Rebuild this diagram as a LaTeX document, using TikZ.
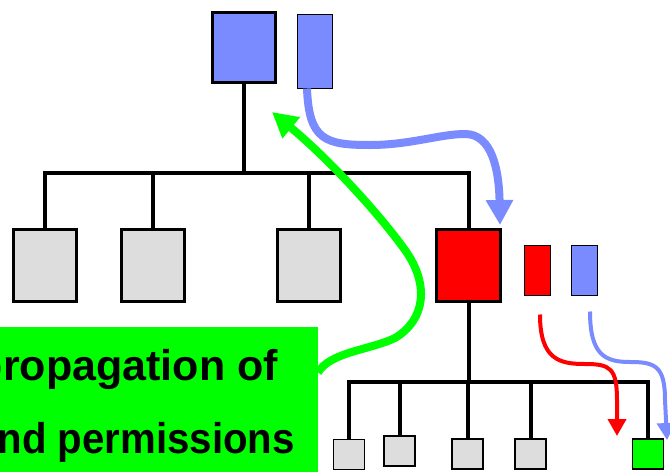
\documentclass[tikz,border=0pt]{standalone}
\usepackage{fontspec}
\usepackage{graphicx}
\setmainfont{Liberation Sans}
\usetikzlibrary{arrows.meta}
\definecolor{pblue}{RGB}{122,139,255}
\definecolor{pgray}{RGB}{221,221,221}
\definecolor{pgreen}{RGB}{0,255,0}
\definecolor{pred}{RGB}{255,0,0}
\begin{document}
\begin{tikzpicture}[x=1pt,y=-1pt,
  bigbox/.style={draw=black,line width=3pt,inner sep=0pt,outer sep=0pt,minimum width=63pt,minimum height=72pt},
  keybox/.style={draw=black,line width=1.2pt,inner sep=0pt,outer sep=0pt},
  leaf/.style={draw=black,line width=1.8pt,fill=pgray,inner sep=0pt,outer sep=0pt,minimum width=31pt,minimum height=30pt},
  tree/.style={draw=black,line width=4pt},
  bigarrow/.style={line width=8pt,-{Triangle[length=25pt,width=26pt]}},
  thinarrow/.style={line width=4pt,-{Triangle[length=17pt,width=18pt]}},
  banner/.style={font=\fontsize{43}{50}\selectfont\bfseries,inner sep=0pt,anchor=base east}]
\useasboundingbox (0,0) rectangle (670,472);
\clip (0,0) rectangle (670,472);
% upper level
\node[bigbox,fill=pblue,minimum height=70pt] (top) at (244,47.5) {};
\node[keybox,fill=pblue,minimum width=35pt,minimum height=74pt] (topk) at (315,51.5) {};
\node[bigbox,fill=pgray] (g1) at (45,265.5) {};
\node[bigbox,fill=pgray] (g2) at (152.5,265.5) {};
\node[bigbox,fill=pgray] (g3) at (309,265.5) {};
\node[bigbox,fill=pred,minimum width=64pt] (red) at (468.5,265.5) {};
\node[keybox,fill=pred,minimum width=26pt,minimum height=50pt] (rk) at (537.5,270.5) {};
\node[keybox,fill=pblue,minimum width=26pt,minimum height=50pt] (bk) at (584.5,270.5) {};
% lower level
\node[leaf] (b1) at (349,454.5) {};
\node[leaf] (b2) at (399.5,451) {};
\node[leaf] (b3) at (467.5,454) {};
\node[leaf] (b4) at (530.5,454) {};
\node[leaf,fill=pgreen] (b5) at (648,454) {};
% buses
\coordinate (bus1) at (0,173);
\coordinate (bus2) at (0,382);
\draw[tree] (top.south) -- (top.south |- bus1);
\draw[tree] (g1.north) -- (g1.north |- bus1) -- (red.north |- bus1) -- (red.north);
\draw[tree] (g2.north) -- (g2.north |- bus1);
\draw[tree] (g3.north) -- (g3.north |- bus1);
\draw[tree] (red.south) -- (red.south |- bus2);
\draw[tree] (b1.north) -- (b1.north |- bus2) -- (b5.north |- bus2) -- (b5.north);
\draw[tree] (b2.north) -- (b2.north |- bus2);
\draw[tree] (b3.north) -- (b3.north |- bus2);
\draw[tree] (b4.north) -- (b4.north |- bus2);
% banner
\node[fill=pgreen,inner sep=0pt,outer sep=0pt,minimum width=318pt,minimum height=145pt] (gbox) at (159,399.5) {};
\node[banner] (t1) at (278,380) {propagation of};
\node[banner] (t2) at (295,453) {\scalebox{0.935}[1]{nd permissions}};
% arrows
\coordinate (btip) at (500,225);
\coordinate (rtip) at (617,436);
\coordinate (ktip) at (667,440);
\coordinate (gtip) at (272,112);
\draw[bigarrow,pblue] ([xshift=-8pt]topk.south) .. controls (309,140) and (325,145) .. (370,145)
  .. controls (410,145) and (440,134) .. (465,134) .. controls (492,134) and (499,170) .. (btip);
\draw[bigarrow,pgreen] ([yshift=27pt]gbox.east) .. controls (330,352) and (370,350) .. (395,338)
  .. controls (425,320) and (430,285) .. (405,250) .. controls (380,215) and (330,160) .. (gtip);
\draw[thinarrow,pred] ([xshift=2.5pt,yshift=-19pt]rk.south) .. controls (540,360) and (560,364) .. (585,364)
  .. controls (610,364) and (617,368) .. (617,400) -- (rtip);
\draw[thinarrow,pblue] ([xshift=5.5pt,yshift=-16pt]bk.south) .. controls (590,355) and (605,362) .. (630,362)
  .. controls (655,362) and (665,366) .. (665,400) -- (ktip);
\end{tikzpicture}
\end{document}
